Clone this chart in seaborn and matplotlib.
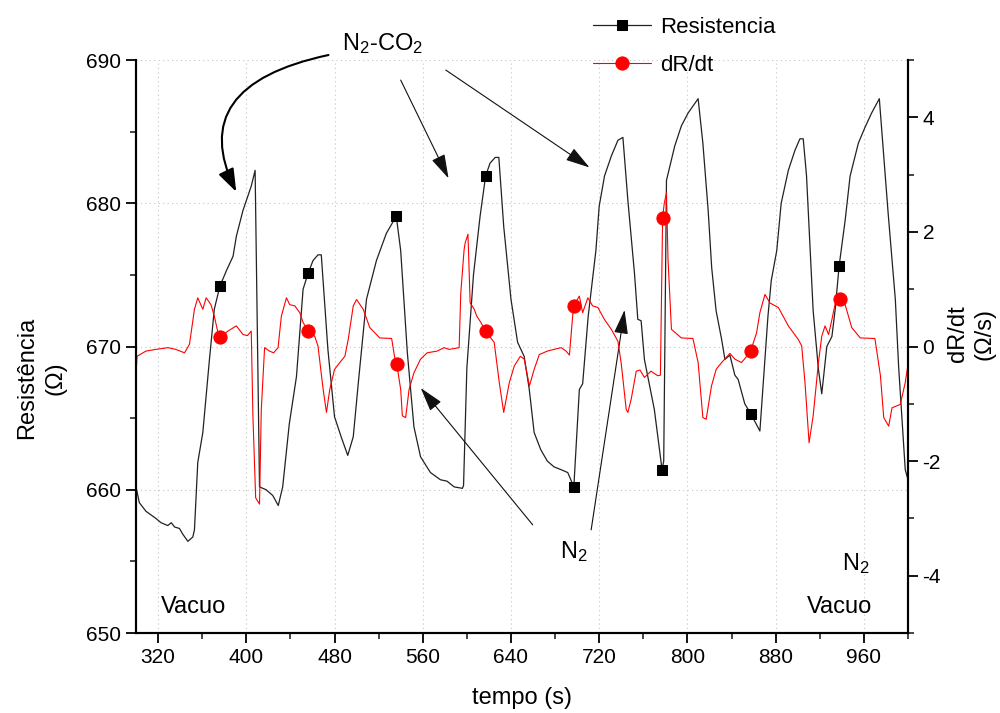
import numpy as np
import pandas as pd
import seaborn as sns
import matplotlib.pyplot as plt
from matplotlib.ticker import MultipleLocator

# resistencia (ohm) vs tempo (s)
tempo_res = [300, 303, 309, 318, 322.7, 328.8, 332, 335, 339.4, 342.4, 347, 351.5, 353, 356, 360.6,
             366.6, 371, 376, 382, 388, 391, 397, 404.5, 408, 412, 418, 424, 429, 433, 439,
             445.5, 451.5, 456, 460.5, 465, 468, 474, 480, 486, 492, 497, 501.5, 509, 518, 527,
             536, 540, 546, 552, 558, 567, 576, 582, 588.5, 596, 597, 600, 606, 612, 617,
             621, 625.7, 629, 633.4, 640, 646, 652, 656.6, 661, 667, 673, 679, 685.5, 691.5, 697,
             702, 705, 710, 717, 720, 724.8, 731, 737, 741.5, 746, 752, 755, 758, 761, 770,
             777, 778.5, 781, 788.5, 794.5, 800.6, 806, 809.7, 814, 818.8, 822, 826, 831, 834, 838.5,
             843, 846, 852, 857.5, 865.7, 873, 876, 881, 885, 891.5, 897.5, 902, 905, 908, 911,
             914, 918.8, 921.8, 926.4, 931, 934, 937.5, 943, 947.5, 955, 961, 967, 974, 982, 988.5,
             991.5, 997.5, 1000]
resistencia = [660.2, 659.1, 658.5, 658.0, 657.7, 657.5, 657.7, 657.4, 657.3, 656.9, 656.4, 656.7, 657.2, 661.9, 664.0,
               669.1, 672.6, 674.2, 675.3, 676.3, 677.7, 679.5, 681.2, 682.3, 660.2, 660.0, 659.6, 658.9, 660.2, 664.6,
               667.9, 674.0, 675.1, 676.0, 676.4, 676.4, 669.8, 665.1, 663.7, 662.4, 663.7, 667.4, 673.3, 676.0, 677.9,
               679.1, 676.7, 669.6, 664.4, 662.3, 661.2, 660.7, 660.6, 660.2, 660.1, 660.3, 668.5, 675.0, 679.1, 681.9,
               682.8, 683.2, 683.2, 678.4, 673.3, 670.3, 669.3, 667.0, 664.0, 662.8, 662.0, 661.6, 661.4, 661.2, 660.2,
               667.0, 667.4, 672.1, 676.7, 679.8, 681.9, 683.3, 684.4, 684.6, 680.2, 675.1, 671.9, 671.8, 669.1, 665.6,
               661.4, 662.0, 681.6, 684.0, 685.4, 686.3, 686.9, 687.3, 684.2, 679.5, 675.5, 672.5, 670.5, 669.1, 669.4,
               668.0, 667.7, 666.0, 665.3, 664.1, 672.1, 674.6, 676.7, 680.0, 682.3, 683.7, 684.5, 684.5, 681.9, 677.2,
               672.5, 668.4, 666.7, 670.0, 670.7, 672.6, 675.6, 678.8, 681.9, 684.2, 685.3, 686.3, 687.3, 679.3, 673.3,
               668.6, 661.4, 660.7]

# dR/dt (ohm/s) vs tempo (s)
tempo_drdt = [300, 301, 309, 318, 329, 336, 344, 348.5, 353, 356, 360.6, 363.6, 368, 371, 374,
              376.4, 383.4, 391, 397, 401, 404.5, 406, 408.5, 412, 413.6, 416.6, 421, 424.8, 428.8, 431.8,
              436.4, 439.4, 444, 448.5, 451.5, 456, 462, 465, 469.7, 472.7, 475.7, 480, 484.8, 489.4, 492.4,
              497, 500, 506, 512, 521, 531.8, 534.8, 536.4, 540, 541.5, 544.5, 547.6, 552, 558, 564,
              573, 579.4, 584, 593, 594.5, 597.5, 598.5, 601, 603, 606.7, 609, 612.7, 617, 624.8, 629.4,
              633.4, 638.5, 643, 648.5, 652, 656.7, 661, 665.7, 673, 679, 685.5, 690, 693, 696.7, 702,
              705, 709.7, 714, 718.8, 724.8, 731, 737, 740, 744.5, 746, 749, 753.6, 757, 761, 767,
              773, 775.5, 777.5, 779, 781, 782.4, 785.5, 794.5, 805, 809.7, 814, 817, 821.8, 826, 831,
              838.5, 843, 849, 853, 857.5, 862.7, 865.7, 870.3, 874.8, 882.5, 891.5, 900.6, 903.6, 906.6, 910.3,
              914, 918.8, 921.8, 924.8, 928, 931, 934, 937.9, 943, 949, 956.7, 970, 975, 978, 982.5,
              985.5, 993, 997.5, 1000]
drdt = [-0.46, -0.17, -0.08, -0.05, -0.02, -0.05, -0.11, 0.04, 0.65, 0.85, 0.65, 0.85, 0.73, 0.53, 0.27,
        0.17, 0.27, 0.36, 0.21, 0.19, 0.27, -1.21, -2.64, -2.75, -1.10, -0.02, -0.08, -0.11, -0.02, 0.53,
        0.85, 0.73, 0.71, 0.59, 0.42, 0.27, 0.18, 0.01, -0.75, -1.15, -0.75, -0.40, -0.28, -0.17, 0.12,
        0.71, 0.82, 0.65, 0.33, 0.15, 0.14, -0.22, -0.30, -0.75, -1.21, -1.24, -0.75, -0.46, -0.22, -0.11,
        -0.08, -0.02, -0.05, -0.02, 0.94, 1.69, 1.81, 1.96, 0.76, 0.65, 0.53, 0.42, 0.27, 0.07, -0.63,
        -1.15, -0.63, -0.34, -0.17, -0.22, -0.69, -0.40, -0.14, -0.08, -0.05, -0.02, -0.08, -0.15, 0.71, 0.88,
        0.59, 0.85, 0.71, 0.68, 0.47, 0.30, 0.09, -0.30, -1.10, -1.15, -0.92, -0.43, -0.41, -0.54, -0.43,
        -0.51, -0.50, 2.25, 2.50, 2.68, 1.52, 0.30, 0.15, 0.14, -0.28, -1.24, -1.27, -0.69, -0.40, -0.28,
        -0.12, -0.22, -0.28, -0.19, -0.07, 0.24, 0.59, 0.91, 0.76, 0.68, 0.36, 0.12, 0.01, -0.63, -1.68,
        -1.21, -0.28, 0.18, 0.36, 0.21, 0.47, 0.75, 0.83, 0.73, 0.33, 0.15, 0.14, -0.51, -1.24, -1.39,
        -1.07, -1.01, -0.63, -0.31]

# tempos onde o Origin desenhou os simbolos
marcas_t = [376, 456, 536, 617, 697, 777, 857.5, 937.5]

df_res = pd.DataFrame({'tempo': tempo_res, 'R': resistencia})
df_d = pd.DataFrame({'tempo': tempo_drdt, 'dR': drdt})

idx_res = [int(np.argmin(np.abs(df_res['tempo'].values - m))) for m in marcas_t]
idx_d = [int(np.argmin(np.abs(df_d['tempo'].values - m))) for m in marcas_t]

sns.set_style('ticks')
plt.rcParams['font.family'] = ['Liberation Sans', 'DejaVu Sans']
plt.rcParams['mathtext.fontset'] = 'custom'
plt.rcParams['mathtext.rm'] = 'Liberation Sans'
plt.rcParams['mathtext.it'] = 'Liberation Sans:italic'
plt.rcParams['axes.unicode_minus'] = False
plt.rcParams['text.color'] = 'black'
plt.rcParams['axes.labelcolor'] = 'black'

fig = plt.figure(figsize=(10, 7.13), dpi=100)
ax = fig.add_axes([0.136, 0.1122, 0.772, 0.8036])
ax2 = ax.twinx()

sns.lineplot(data=df_res, x='tempo', y='R', ax=ax, sort=False, estimator=None,
             color='#222222', lw=0.9, marker='s', markersize=7, markevery=idx_res,
             markerfacecolor='black', markeredgecolor='black', label='Resistencia')
sns.lineplot(data=df_d, x='tempo', y='dR', ax=ax2, sort=False, estimator=None,
             color='#ff0000', lw=0.8, marker='o', markersize=9.5, markevery=idx_d,
             markerfacecolor='#ff0000', markeredgecolor='#ff0000', label='dR/dt')

# eixos
ax.set_xlim(300, 1000)
ax.set_ylim(650, 690)
ax2.set_ylim(-5, 5)
ax.set_xticks(np.arange(320, 961, 80))
ax.xaxis.set_minor_locator(MultipleLocator(40))
ax.set_yticks(np.arange(650, 691, 10))
ax.yaxis.set_minor_locator(MultipleLocator(5))
ax2.set_yticks([-4, -2, 0, 2, 4])
ax2.yaxis.set_minor_locator(MultipleLocator(1))

for a in (ax, ax2):
    a.tick_params(which='major', direction='out', length=7, width=1.3, labelsize=15, colors='black')
    a.tick_params(which='minor', direction='out', length=4, width=1.2)
    a.spines['top'].set_visible(False)
    for s in ('left', 'right', 'bottom'):
        a.spines[s].set_linewidth(1.5)
        a.spines[s].set_color('black')

ax.grid(True, which='major', linestyle=(0, (1, 3)), color='#c4c4c4', lw=0.8)
ax2.grid(False)
ax.set_axisbelow(True)

ax.set_xlabel('tempo (s)', fontsize=17)
ax.xaxis.set_label_coords(0.5, -0.095)
ax.set_ylabel('Resistência\n(Ω)', fontsize=17, linespacing=1.4)
ax.yaxis.set_label_coords(-0.09, 0.445)
ax2.set_ylabel('dR/dt\n(Ω/s)', fontsize=17, linespacing=1.3)
ax2.yaxis.set_label_coords(1.05, 0.522)

# legenda
h1, l1 = ax.get_legend_handles_labels()
h2, l2 = ax2.get_legend_handles_labels()
for a in (ax, ax2):
    if a.get_legend() is not None:
        a.get_legend().remove()
fig.legend(h1 + h2, l1 + l2, loc='upper left', bbox_to_anchor=(0.593, 0.976), frameon=False,
           fontsize=16, handlelength=2.6, handletextpad=0.4, labelspacing=0.75,
           borderpad=0, borderaxespad=0)

# anotacoes
fs = 17
ax.text(487, 690.7, 'N$_2$-CO$_2$', fontsize=fs, ha='left', va='baseline', clip_on=False)
ax.text(684.5, 655.25, 'N$_2$', fontsize=fs, ha='left', va='baseline')
ax.text(940.6, 654.4, 'N$_2$', fontsize=fs, ha='left', va='baseline')
ax.text(908.2, 651.4, 'Vacuo', fontsize=fs, ha='left', va='baseline')
ax.text(322.4, 651.4, 'Vacuo', fontsize=fs, ha='left', va='baseline')

seta_grossa = dict(arrowstyle='-|>,head_length=0.7,head_width=0.25', color='black', lw=1.5,
                   shrinkA=0, shrinkB=0, mutation_scale=20,
                   connectionstyle='angle3,angleA=12,angleB=-64')
ax.annotate('', xy=(390.9, 680.8), xytext=(474.5, 690.35), arrowprops=seta_grossa,
            annotation_clip=False)

seta = dict(arrowstyle='-|>,head_length=0.75,head_width=0.22', color='#111111', lw=0.8,
            shrinkA=0, shrinkB=0, mutation_scale=20)
ax.annotate('', xy=(583.4, 681.74), xytext=(540, 688.6), arrowprops=seta, annotation_clip=False)
ax.annotate('', xy=(711.2, 682.5), xytext=(580.9, 689.3), arrowprops=seta, annotation_clip=False)
ax.annotate('', xy=(558.2, 667.1), xytext=(659.7, 657.55), arrowprops=seta)
ax.annotate('', xy=(743, 672.55), xytext=(712.7, 657.2), arrowprops=seta)

fig.savefig('out.png', dpi=100)
